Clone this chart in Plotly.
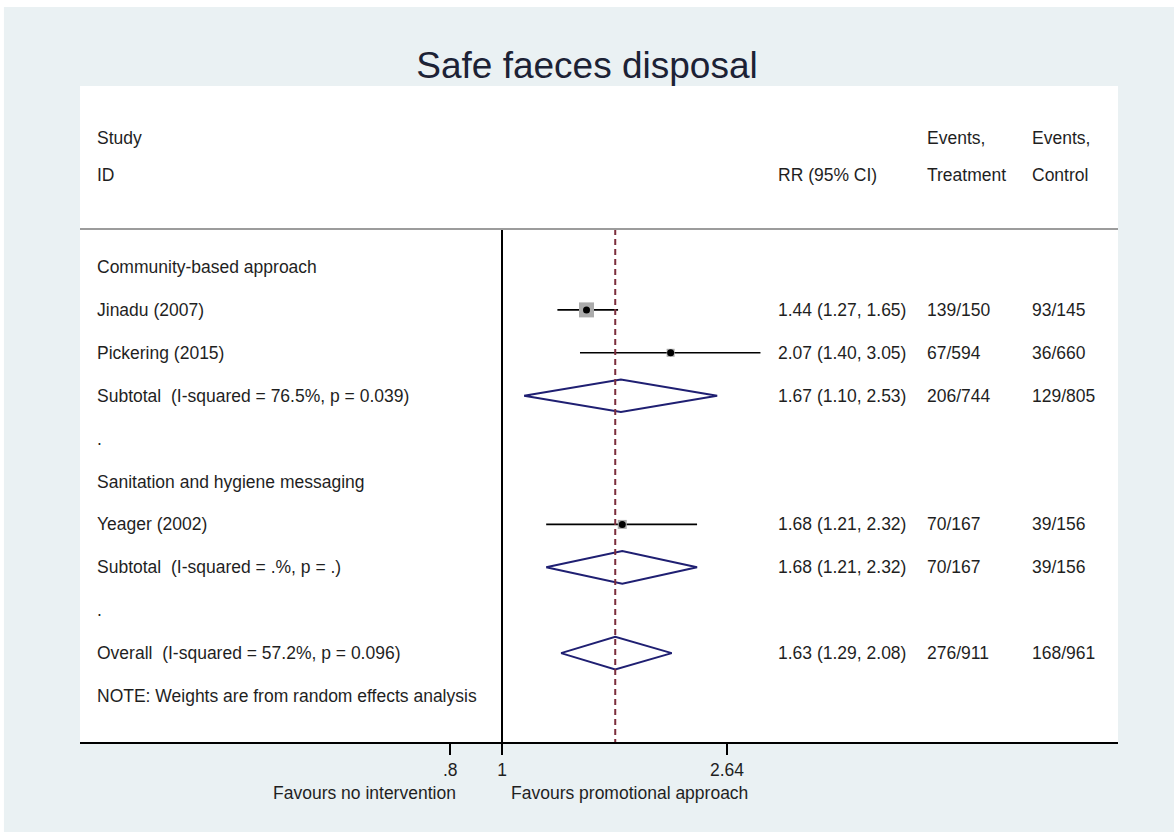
import math
import plotly.graph_objects as go

# ---- data -------------------------------------------------------------
groups = ["Community-based approach", "Sanitation and hygiene messaging"]

studies = ["Jinadu (2007)", "Pickering (2015)", "Yeager (2002)"]
study_group = [0, 0, 1]
study_rr = [1.44, 2.07, 1.68]
study_lo = [1.27, 1.40, 1.21]
study_hi = [1.65, 3.05, 2.32]
study_treat = ["139/150", "67/594", "70/167"]
study_ctrl = ["93/145", "36/660", "39/156"]

pooled_labels = [
    "Subtotal\u00a0 (I-squared = 76.5%, p = 0.039)",
    "Subtotal\u00a0 (I-squared = .%, p = .)",
    "Overall\u00a0 (I-squared = 57.2%, p = 0.096)",
]
pooled_rr = [1.67, 1.68, 1.63]
pooled_lo = [1.10, 1.21, 1.29]
pooled_hi = [2.53, 2.32, 2.08]
pooled_treat = ["206/744", "70/167", "276/911"]
pooled_ctrl = ["129/805", "39/156", "168/961"]

tick_vals = [0.8, 1, 2.64]
tick_text = [".8", "1", "2.64"]

note = "NOTE: Weights are from random effects analysis"
title = "Safe faeces disposal"

# ---- row layout (one row per line of the table) ------------------------
study_rows = [1, 2, 6]
pooled_rows = [3, 7, 9]
group_rows = [0, 5]
blank_rows = [4, 8]
note_row = 10
header_rows = (-3.0, -2.14)
header_line = -0.886
y_top, y_bottom = -4.219, 11.072

box_sizes = [15, 8, 9]
diamond_half = 0.38

FONT = "Liberation Sans, Arial, Helvetica, sans-serif"
TXT = "#1f1f1f"
FS = 17.5
NAVY = "#1f1f72"
DASH_COL = "#7c2d3c"

# column anchors (paper x)
X_LEFT = 0.0145
X_RR = 0.6705
X_TRT = 0.8141
X_CTL = 0.9152

fig = go.Figure()

# confidence intervals for individual studies
for i in range(len(studies)):
    r = study_rows[i]
    fig.add_trace(go.Scatter(
        x=[study_lo[i], study_hi[i]], y=[r, r], mode="lines",
        line=dict(color="black", width=1.6), hoverinfo="skip", showlegend=False))

# weight boxes
for i in range(len(studies)):
    fig.add_trace(go.Scatter(
        x=[study_rr[i]], y=[study_rows[i]], mode="markers",
        marker=dict(symbol="square", size=box_sizes[i], color="#ababab",
                    line=dict(width=0)),
        hoverinfo="skip", showlegend=False))

# point estimates
fig.add_trace(go.Scatter(
    x=study_rr, y=study_rows, mode="markers",
    marker=dict(symbol="circle", size=7, color="black"),
    hoverinfo="skip", showlegend=False))

# pooled diamonds
for i in range(len(pooled_rr)):
    r = pooled_rows[i]
    fig.add_trace(go.Scatter(
        x=[pooled_lo[i], pooled_rr[i], pooled_hi[i], pooled_rr[i], pooled_lo[i]],
        y=[r, r - diamond_half, r, r + diamond_half, r],
        mode="lines", line=dict(color=NAVY, width=2),
        hoverinfo="skip", showlegend=False))

# null line and overall-effect line
fig.add_shape(type="line", xref="x", yref="y", x0=1, x1=1,
              y0=header_line, y1=y_bottom, line=dict(color="black", width=2))
fig.add_shape(type="line", xref="x", yref="y", x0=pooled_rr[-1], x1=pooled_rr[-1],
              y0=header_line, y1=y_bottom,
              line=dict(color=DASH_COL, width=2, dash="6px,4px"))

# header separator
fig.add_shape(type="line", xref="paper", yref="y", x0=0, x1=1,
              y0=header_line, y1=header_line, line=dict(color="#9c9c9c", width=2))

# white strips at the page edge
fig.add_shape(type="rect", xref="paper", yref="paper", x0=-0.08, x1=1.06,
              y0=1.1205, y1=1.14, fillcolor="white", line=dict(width=0), layer="below")
fig.add_shape(type="rect", xref="paper", yref="paper", x0=-0.08, x1=-0.0733,
              y0=-0.14, y1=1.14, fillcolor="white", line=dict(width=0), layer="below")


def txt(x, y, s, xanchor="left", yref="y", size=FS, color=TXT):
    fig.add_annotation(x=x, y=y, xref="paper", yref=yref, text=s, showarrow=False,
                       xanchor=xanchor, yanchor="middle",
                       font=dict(family=FONT, size=size, color=color))


# header
txt(X_LEFT, header_rows[0], "Study")
txt(X_LEFT, header_rows[1], "ID")
txt(X_RR, header_rows[1], "RR (95% CI)")
txt(X_TRT, header_rows[0], "Events,")
txt(X_TRT, header_rows[1], "Treatment")
txt(X_CTL, header_rows[0], "Events,")
txt(X_CTL, header_rows[1], "Control")

# group headings and spacer dots
for g, r in zip(groups, group_rows):
    txt(X_LEFT, r, g)
for r in blank_rows:
    txt(X_LEFT, r, ".")


def fmt(est, lo, hi):
    return f"{est:.2f} ({lo:.2f}, {hi:.2f})"


for i in range(len(studies)):
    r = study_rows[i]
    txt(X_LEFT, r, studies[i])
    txt(X_RR, r, fmt(study_rr[i], study_lo[i], study_hi[i]))
    txt(X_TRT, r, study_treat[i])
    txt(X_CTL, r, study_ctrl[i])

for i in range(len(pooled_rr)):
    r = pooled_rows[i]
    txt(X_LEFT, r, pooled_labels[i])
    txt(X_RR, r, fmt(pooled_rr[i], pooled_lo[i], pooled_hi[i]))
    txt(X_TRT, r, pooled_treat[i])
    txt(X_CTL, r, pooled_ctrl[i])

txt(X_LEFT, note_row, note)

# favours labels under the axis
txt(0.3642, -0.0777, "Favours no intervention", xanchor="right", yref="paper")
txt(0.4133, -0.0777, "Favours promotional approach", xanchor="left", yref="paper")

# px per ln-unit scale: x range in log10
x_lo = -0.7907
x_hi = 1.1542

fig.update_layout(
    width=1174, height=832,
    margin=dict(l=80, r=56, t=86, b=90),
    paper_bgcolor="#eaf1f3",
    plot_bgcolor="white",
    title=dict(text=title, x=0.5, xanchor="center", y=0.922, yanchor="middle",
               font=dict(family=FONT, size=37, color="#1c2235")),
    xaxis=dict(type="log", range=[x_lo, x_hi], showgrid=False, zeroline=False,
               showline=True, linecolor="black", linewidth=2, mirror=False,
               tickmode="array", tickvals=tick_vals, ticktext=tick_text,
               ticks="outside", ticklen=11, tickwidth=2, tickcolor="black",
               tickfont=dict(family=FONT, size=FS, color=TXT)),
    yaxis=dict(range=[y_bottom, y_top], showgrid=False, zeroline=False,
               showline=False, showticklabels=False, ticks=""),
    showlegend=False,
)

fig.write_html("out.html")
